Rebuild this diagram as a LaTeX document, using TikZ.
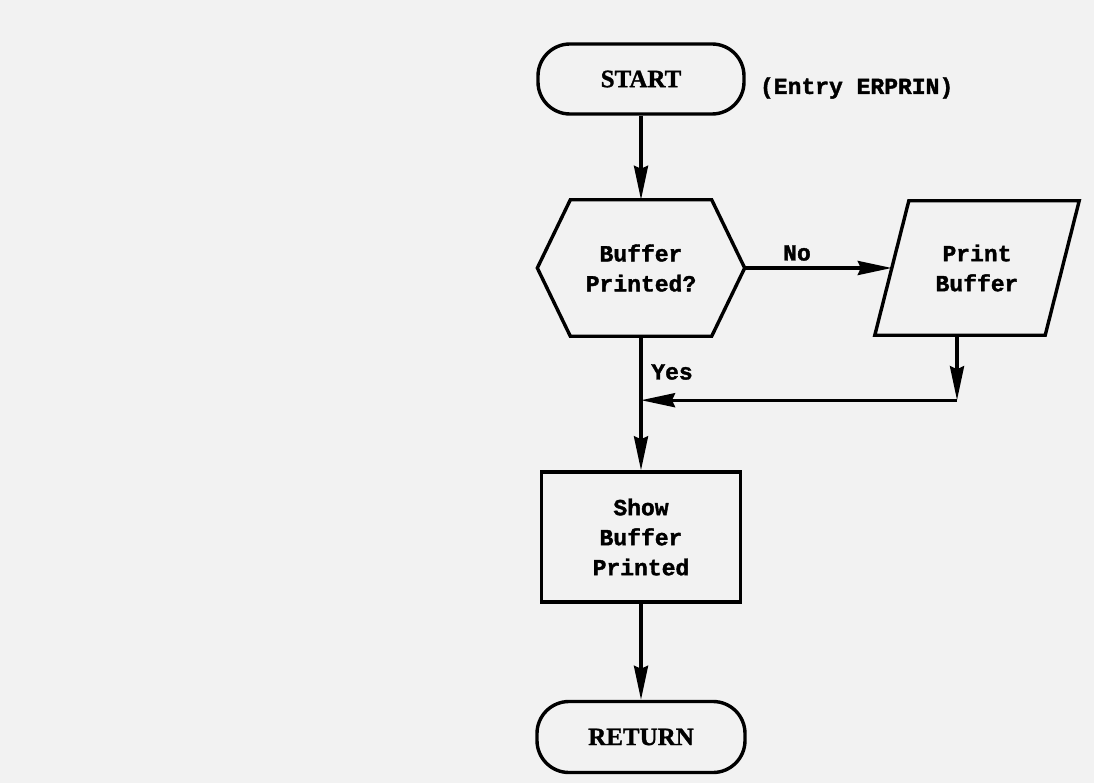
\documentclass[tikz,border=0pt]{standalone}
\usepackage{fontspec}
\usetikzlibrary{calc,arrows.meta}
\newfontfamily\twfont{Liberation Mono}[BoldFeatures={FakeBold=1.6}]
\newfontfamily\capfont{Liberation Serif}[BoldFeatures={FakeBold=1.2}]

\begin{document}
\begin{tikzpicture}[x=1pt,y=-1pt,line width=3.4pt,
    tip/.style={-{Stealth[length=34pt,width=14pt,inset=3pt]}},
    term/.style={draw,rounded corners=32pt,minimum width=206pt,minimum height=70pt,
      font=\capfont\bfseries\fontsize{25}{30}\selectfont},
    txt/.style={font=\twfont\bfseries\fontsize{23}{30}\selectfont,align=center}]
        \fill[black!5] (0,0) rectangle (1094,783);
        \useasboundingbox (0,0) rectangle (1094,783);
        % terminals and boxes
        \node[term] (start) at (641,79) {START};
        \node[txt,anchor=west] (entry) at (755,88) {(Entry ERPRIN)};
        \node[txt,minimum width=204pt,minimum height=133pt,inner sep=0pt] (test) at (641,268) {Buffer\\Printed?};
        \draw ($(test.north west)+(33,0)$) -- ($(test.north east)+(-33,0)$) -- (test.east)
          -- ($(test.south east)+(-33,0)$) -- ($(test.south west)+(33,0)$) -- (test.west) -- cycle;
        \node[txt,minimum width=167pt,minimum height=131pt,inner sep=0pt] (print) at (977,268) {Print\\Buffer};
        \draw ($(print.south west)+(-17,0)$) -- ($(print.north west)+(17,0)$)
          -- ($(print.north east)+(17,0)$) -- ($(print.south east)+(-17,0)$) -- cycle;
        \node[txt,draw,minimum width=199pt,minimum height=130pt] (show) at (641,537) {Show\\Buffer\\Printed};
        \node[term,minimum width=208pt,minimum height=71pt] (ret) at (641,737) {RETURN};
        % branch labels
        \node[txt] (no) at (797,253) {No};
        \node[txt] (yes) at (672,372) {Yes};
        % connectors
        \coordinate (join) at ($(print.south)+(-20,65)$);
        \draw[tip] (start) -- (test);
        \draw[tip] (test) -- (print);
        \draw[tip] (print.south -| join) -- (join);
        \draw[tip] (join) -- (join -| test.south);
        \draw[tip] (test) -- (show);
        \draw[tip] (show) -- (ret);
      \end{tikzpicture}
\end{document}
